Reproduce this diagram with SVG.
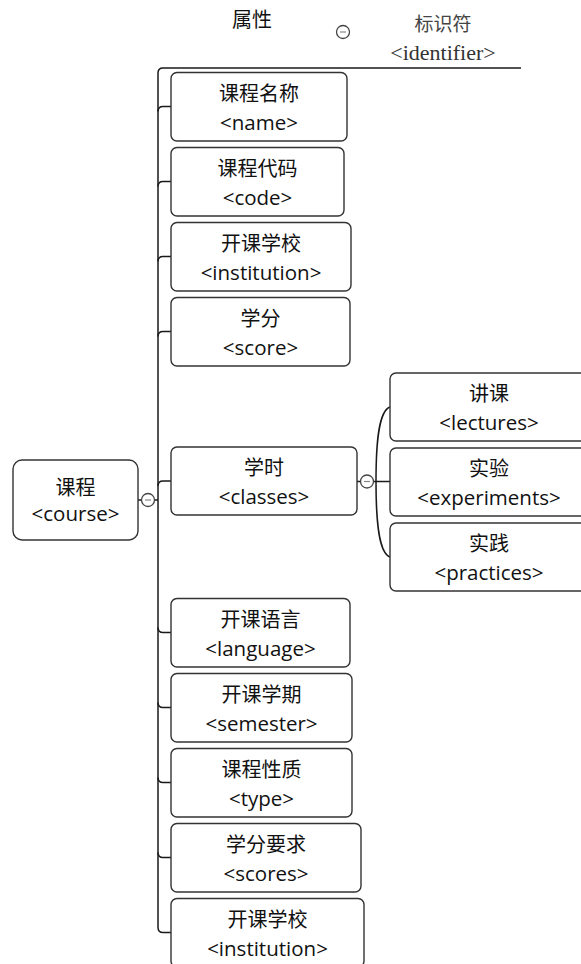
<svg xmlns="http://www.w3.org/2000/svg" width="581" height="964" viewBox="0 0 581 964">
<style>
.bg{fill:#ffffff}
.box{fill:#ffffff;stroke:#333333;stroke-width:1.4}
.con{fill:none;stroke:#1a1a1a;stroke-width:1.5}
.tg{fill:#ffffff;stroke:#444444;stroke-width:1.3}
.mn{stroke:#888888;stroke-width:1.2}
.t{font-family:"Open Sans","Noto Sans CJK SC",sans-serif;font-size:20px;fill:#111111;text-anchor:middle}
.l{font-size:20.5px}
.h1{font-family:"Noto Sans CJK SC",sans-serif;font-size:20px;fill:#111111;text-anchor:middle}
.h2{font-family:"Noto Sans CJK SC",sans-serif;font-size:19px;fill:#444444;text-anchor:middle}
.h3{font-family:"Liberation Serif",serif;font-size:22px;fill:#333333;text-anchor:middle}
</style>
<rect class="bg" x="0" y="0" width="581" height="964"/>

<g id="header">
  <text class="h1" x="252" y="27">属性</text>
  <circle class="tg" cx="343" cy="32" r="6.5"/>
  <line class="mn" x1="340" y1="32" x2="346" y2="32"/>
  <text class="h2" x="443" y="31">标识符</text>
  <text class="h3" x="443" y="60">&lt;identifier&gt;</text>
</g>

<g id="connectors">
  <path class="con" d="M521,68 L163,68 Q158,68 158,73 L158,927.5 Q158,932.5 163,932.5 L171,932.5"/>
  <path class="con" d="M158,111.5 Q158,106.5 163,106.5 L171,106.5"/>
  <path class="con" d="M158,186.5 Q158,181.5 163,181.5 L171,181.5"/>
  <path class="con" d="M158,261.5 Q158,256.5 163,256.5 L171,256.5"/>
  <path class="con" d="M158,336.5 Q158,331.5 163,331.5 L171,331.5"/>
  <path class="con" d="M158,486 Q158,481 163,481 L171,481"/>
  <path class="con" d="M158,627.5 Q158,632.5 163,632.5 L171,632.5"/>
  <path class="con" d="M158,702.5 Q158,707.5 163,707.5 L171,707.5"/>
  <path class="con" d="M158,777.5 Q158,782.5 163,782.5 L171,782.5"/>
  <path class="con" d="M158,852.5 Q158,857.5 163,857.5 L171,857.5"/>
  <line class="con" x1="137.5" y1="500" x2="141.5" y2="500"/>
  <line class="con" x1="154.5" y1="500" x2="158" y2="500"/>
  <circle class="tg" cx="148" cy="500" r="6.5"/>
  <line class="mn" x1="145" y1="500" x2="151" y2="500"/>
  <line class="con" x1="357" y1="481.5" x2="360.5" y2="481.5"/>
  <line class="con" x1="373.5" y1="481.5" x2="390" y2="481.5"/>
  <path class="con" d="M390,407 C379,411 376,440 376,481.5 C376,523 379,553 390,557"/>
  <circle class="tg" cx="367" cy="481.5" r="6.5"/>
  <line class="mn" x1="364" y1="481.5" x2="370" y2="481.5"/>
</g>

<g id="course">
  <rect class="box" x="13" y="460" width="125" height="80" rx="9"/>
  <text class="t" x="75.5" y="495">课程</text>
  <text class="t l" x="75.5" y="521">&lt;course&gt;</text>
</g>

<g id="name">
  <rect class="box" x="171" y="72.5" width="176" height="68.5" rx="6"/>
  <text class="t" x="259" y="101">课程名称</text>
  <text class="t l" x="259" y="130">&lt;name&gt;</text>
</g>
<g id="code">
  <rect class="box" x="171" y="147.5" width="173" height="68.5" rx="6"/>
  <text class="t" x="257.5" y="176">课程代码</text>
  <text class="t l" x="257.5" y="205">&lt;code&gt;</text>
</g>
<g id="institution">
  <rect class="box" x="171" y="222.5" width="180" height="68.5" rx="6"/>
  <text class="t" x="261" y="251">开课学校</text>
  <text class="t l" x="261" y="280">&lt;institution&gt;</text>
</g>
<g id="score">
  <rect class="box" x="171" y="297.5" width="179" height="68.5" rx="6"/>
  <text class="t" x="260.5" y="326">学分</text>
  <text class="t l" x="260.5" y="355">&lt;score&gt;</text>
</g>
<g id="classes">
  <rect class="box" x="171" y="447" width="186" height="68" rx="6"/>
  <text class="t" x="264" y="475">学时</text>
  <text class="t l" x="264" y="504">&lt;classes&gt;</text>
</g>
<g id="language">
  <rect class="box" x="171" y="598.5" width="179" height="68.5" rx="6"/>
  <text class="t" x="260.5" y="627">开课语言</text>
  <text class="t l" x="260.5" y="656">&lt;language&gt;</text>
</g>
<g id="semester">
  <rect class="box" x="171" y="673.5" width="181" height="68.5" rx="6"/>
  <text class="t" x="261.5" y="702">开课学期</text>
  <text class="t l" x="261.5" y="731">&lt;semester&gt;</text>
</g>
<g id="type">
  <rect class="box" x="171" y="748.5" width="181" height="68.5" rx="6"/>
  <text class="t" x="261.5" y="777">课程性质</text>
  <text class="t l" x="261.5" y="806">&lt;type&gt;</text>
</g>
<g id="scores">
  <rect class="box" x="171" y="823.5" width="190" height="68.5" rx="6"/>
  <text class="t" x="266" y="852">学分要求</text>
  <text class="t l" x="266" y="881">&lt;scores&gt;</text>
</g>
<g id="institution2">
  <rect class="box" x="171" y="898.5" width="193" height="68.5" rx="6"/>
  <text class="t" x="267.5" y="927">开课学校</text>
  <text class="t l" x="267.5" y="956">&lt;institution&gt;</text>
</g>

<g id="lectures">
  <rect class="box" x="390" y="373" width="198" height="68" rx="6"/>
  <text class="t" x="489" y="401">讲课</text>
  <text class="t l" x="489" y="430">&lt;lectures&gt;</text>
</g>
<g id="experiments">
  <rect class="box" x="390" y="448" width="198" height="68" rx="6"/>
  <text class="t" x="489" y="476">实验</text>
  <text class="t l" x="489" y="505">&lt;experiments&gt;</text>
</g>
<g id="practices">
  <rect class="box" x="390" y="523" width="198" height="68" rx="6"/>
  <text class="t" x="489" y="551">实践</text>
  <text class="t l" x="489" y="580">&lt;practices&gt;</text>
</g>
</svg>
